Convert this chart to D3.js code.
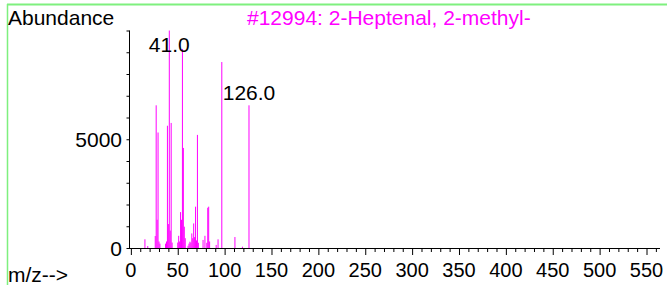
<!DOCTYPE html>
<html><head><meta charset="utf-8">
<script src="https://cdn.jsdelivr.net/npm/d3@7"></script>
<style>
html,body{margin:0;padding:0;background:#fff;}
svg{display:block;}
text{font-family:"Liberation Sans",Arial,sans-serif;}
</style></head>
<body>
<script>
// ---- data ----
const title = "#12994: 2-Heptenal, 2-methyl-";
const mz = [15,18,26,27,28,29,30,31,37,38,39,40,41,42,43,44,50,51,52,53,54,55,56,57,58,61,62,63,64,65,66,67,68,69,70,71,72,77,79,81,82,83,84,91,93,97,111,119,126];
const abundance = [400,90,550,6560,1300,5310,300,200,200,300,5620,1100,9999,800,5750,250,250,560,300,1650,1300,9150,4600,980,450,100,200,290,250,670,450,1130,500,1900,350,5200,240,370,560,240,1850,1900,300,140,400,8550,505,60,6560];
const peakLabels = [41.0, 126.0];
const xTickLabels = [0,50,100,150,200,250,300,350,400,450,500,550];
const yTickLabels = [0,5000];

const W = 667, H = 285;
const svg = d3.select("body").append("svg").attr("width", W).attr("height", H);

// frame
svg.append("line").attr("x1",7).attr("x2",W).attr("y1",4.5).attr("y2",4.5)
  .attr("stroke","#7ef07e").attr("stroke-width",2);
svg.append("line").attr("x1",7.5).attr("x2",7.5).attr("y1",4).attr("y2",H)
  .attr("stroke","#7ef07e").attr("stroke-width",1.5);

const x = d3.scaleLinear().domain([0,550]).range([130.86,646.5]);
const y = d3.scaleLinear().domain([0,10000]).range([248,30.5]);

// bars
svg.append("g").selectAll("line").data(mz).join("line")
  .attr("x1",(d)=>x(d)).attr("x2",(d)=>x(d))
  .attr("y1",y(0)).attr("y2",(d,i)=>y(abundance[i]))
  .attr("stroke","#ff00ff").attr("stroke-width",1);

// x axis
const xAxis = d3.axisBottom(x).tickValues(d3.range(0,561,10))
  .tickSize(4).tickSizeOuter(0).tickFormat("");
const gx = svg.append("g").attr("transform",`translate(0,${y(0)})`).call(xAxis);
gx.select(".domain").remove();
gx.selectAll(".tick line").attr("stroke","#000")
  .attr("y2",(d)=> d%50===0 ? 7 : 4);
svg.append("line").attr("x1",129).attr("x2",660).attr("y1",248.5).attr("y2",248.5)
  .attr("stroke","#000").attr("stroke-width",1);
svg.append("g").selectAll("text").data(xTickLabels).join("text")
  .attr("x",(d)=>x(d)).attr("y",277).attr("text-anchor","middle")
  .attr("font-size",20).attr("fill","#000").text((d)=>d);

// y axis
const yAxis = d3.axisLeft(y).tickValues(d3.range(0,10001,1000))
  .tickSize(3).tickSizeOuter(0).tickFormat("");
const gy = svg.append("g").attr("transform","translate(129.5,0)").call(yAxis);
gy.select(".domain").remove();
gy.selectAll(".tick line").attr("stroke","#000");
svg.append("line").attr("x1",129.5).attr("x2",129.5).attr("y1",y(10000)).attr("y2",248.5)
  .attr("stroke","#000").attr("stroke-width",1);
svg.append("g").selectAll("text").data(yTickLabels).join("text")
  .attr("x",122).attr("y",(d)=>y(d)+7.5).attr("text-anchor","end")
  .attr("font-size",21).attr("fill","#000").text((d)=>d);

// peak labels
const peakIdx = peakLabels.map(p=>mz.indexOf(p));
svg.append("g").selectAll("text").data(peakLabels).join("text")
  .attr("x",(d)=>x(d)).attr("y",(d,i)=> i===0 ? 52 : y(abundance[peakIdx[i]]) - 5)
  .attr("text-anchor","middle").attr("font-size",21).attr("fill","#000")
  .text((d)=>d.toFixed(1));

// texts
svg.append("text").attr("x",8).attr("y",25).attr("font-size",21).attr("fill","#000").text("Abundance");
svg.append("text").attr("x",247).attr("y",25).attr("font-size",21).attr("fill","#ff00ff").text(title);
svg.append("text").attr("x",8).attr("y",282).attr("font-size",21).attr("fill","#000").text("m/z-->");
</script>
</body></html>
